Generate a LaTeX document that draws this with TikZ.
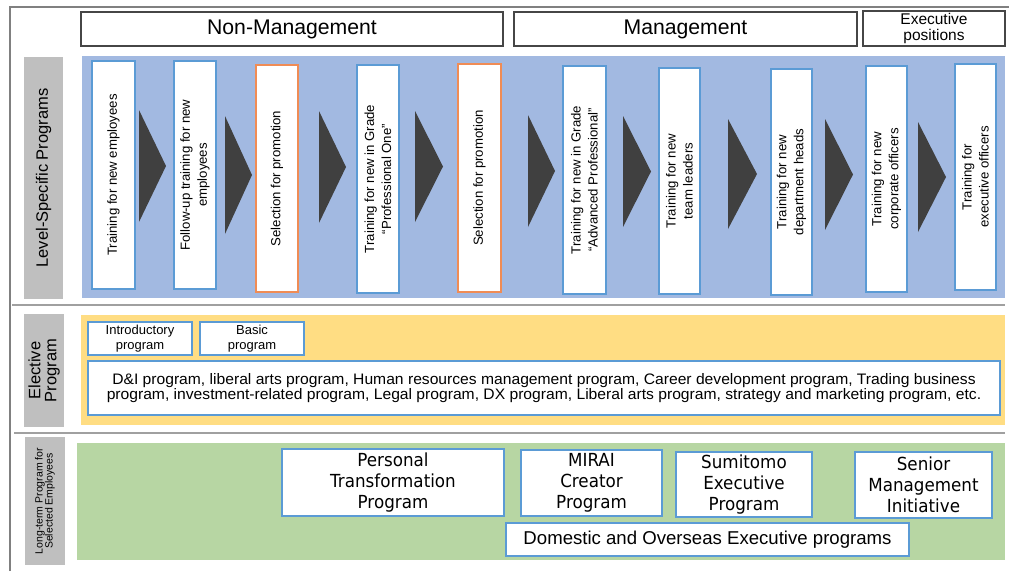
\documentclass[tikz,border=0pt]{standalone}
\usepackage{fontspec}
\setmainfont{Liberation Sans}
\newfontfamily\tahfont[FakeStretch=0.93]{DejaVu Sans}
\newfontfamily\widefont[FakeStretch=1.03]{Liberation Sans}
\definecolor{bandblue}{RGB}{162,185,225}
\definecolor{bandyellow}{RGB}{255,221,131}
\definecolor{bandgreen}{RGB}{183,214,163}
\definecolor{labelgray}{RGB}{191,191,191}
\definecolor{bluebd}{RGB}{91,155,213}
\definecolor{orangebd}{RGB}{240,140,85}
\definecolor{tridark}{RGB}{64,64,64}
\definecolor{hdrbd}{RGB}{70,70,70}
\definecolor{sepgray}{RGB}{160,160,160}
\begin{document}
\begin{tikzpicture}[x=1pt,y=-1pt,
  hdr/.style={draw=hdrbd, line width=1.8pt, fill=white, inner sep=0pt, align=center},
  lbl/.style={fill=labelgray, rotate=90, inner sep=0pt, align=center},
  band/.style={inner sep=0pt},
  lvbox/.style={draw=bluebd, line width=1.5pt, fill=white, rotate=90, inner sep=0pt, align=center, font=\fontsize{13.2}{17}\selectfont},
  selbox/.style={lvbox, draw=orangebd},
  elbox/.style={draw=bluebd, line width=1.5pt, fill=white, inner sep=0pt, align=center},
  grbox/.style={draw=bluebd, line width=1.5pt, fill=white, inner sep=0pt, align=center, font=\tahfont\fontsize{18}{21}\selectfont},
  tri/.style={fill=tridark},
  sepline/.style={draw=sepgray, line width=2pt},
  frameline/.style={draw=gray, line width=2pt}
]
\useasboundingbox (0,0) rectangle (1009,571);
% outer frame
\coordinate (fTL) at (10,7);
\coordinate (fBL) at (10,571);
\coordinate (fTR) at (1009,7);
\draw[frameline] (fBL) -- (fTL) -- (fTR);

% header boxes
\node[hdr, minimum width=422, minimum height=34, font=\fontsize{21.2}{24}\selectfont] (nonmgmt) at (292,29) {Non-Management};
\node[hdr, minimum width=343, minimum height=34, font=\fontsize{21.2}{24}\selectfont] (mgmt) at (685.5,29) {Management};
\node[hdr, minimum width=142, minimum height=35, font=\fontsize{15.5}{15.5}\selectfont] (exec) at (934,28.5) {Executive\\positions};

% bands
\node[band, fill=bandblue, minimum width=923, minimum height=242] (blueband) at (543.5,177) {};
\node[band, fill=bandyellow, minimum width=924, minimum height=110] (yellowband) at (543,370) {};
\node[band, fill=bandgreen, minimum width=928, minimum height=117] (greenband) at (541,501.5) {};

% separators
\coordinate (s1a) at (12,305); \coordinate (s1b) at (1005,305);
\coordinate (s2a) at (14,433); \coordinate (s2b) at (1005,433);
\draw[sepline] (s1a) -- (s1b);
\draw[sepline] (s2a) -- (s2b);

% side labels
\node[lbl, minimum width=242, minimum height=39, font=\fontsize{16.5}{18}\selectfont] (lvlabel) at (43.5,178) {Level-Specific Programs};
\node[lbl, minimum width=113, minimum height=40, font=\fontsize{16.5}{16}\selectfont] (ellabel) at (44,370.5) {Elective\\Program};
\node[lbl, minimum width=128, minimum height=40, font=\fontsize{10.5}{10}\selectfont] (ltlabel) at (45,501) {Long-term Program for\\Selected Employees};

% level-specific boxes
\node[lvbox, minimum width=228, minimum height=43] (b1) at (113.5,175) {Training for new employees};
\node[lvbox, minimum width=228, minimum height=42] (b2) at (195,175) {Follow-up training for new\\employees};
\node[selbox, minimum width=227, minimum height=42] (b3) at (277,178.5) {Selection for promotion};
\node[lvbox, minimum width=228, minimum height=42] (b4) at (378,179) {Training for new in Grade\\``Professional One''};
\node[selbox, minimum width=228, minimum height=43] (b5) at (479.5,178) {Selection for promotion};
\node[lvbox, minimum width=228, minimum height=43] (b6) at (584.5,180) {Training for new in Grade\\``Advanced Professional''};
\node[lvbox, minimum width=226, minimum height=41] (b7) at (679.5,181) {Training for new\\team leaders};
\node[lvbox, minimum width=226, minimum height=41] (b8) at (791.5,182) {Training for new\\department heads};
\node[lvbox, minimum width=226, minimum height=41] (b9) at (886.5,179) {Training for new\\corporate officers};
\node[lvbox, minimum width=226, minimum height=41] (b10) at (975.5,177) {Training for\\executive officers};

% chevrons
\fill[tri] (139,110) -- (166,166) -- (139,222) -- cycle;
\fill[tri] (225,116) -- (252,175) -- (225,234) -- cycle;
\fill[tri] (319,111) -- (346,167) -- (319,223) -- cycle;
\fill[tri] (415,111) -- (443,166.5) -- (415,222) -- cycle;
\fill[tri] (528,115) -- (555,171) -- (528,227) -- cycle;
\fill[tri] (623,116) -- (651,171.5) -- (623,227) -- cycle;
\fill[tri] (728,119) -- (757,174) -- (728,229) -- cycle;
\fill[tri] (825,119) -- (853,174.5) -- (825,230) -- cycle;
\fill[tri] (918,122) -- (946,177) -- (918,232) -- cycle;

% elective boxes
\node[elbox, minimum width=104, minimum height=33, font=\fontsize{13}{15}\selectfont] (intro) at (140,338.5) {Introductory\\program};
\node[elbox, minimum width=104, minimum height=33, font=\fontsize{13}{15}\selectfont] (basic) at (252,338.5) {Basic\\program};
\node[elbox, minimum width=912, minimum height=54, font=\widefont\fontsize{15.2}{11}\selectfont] (elective) at (544,388) {D\&I program, liberal arts program, Human resources management program, Career development program, Trading business\\program, investment-related program, Legal program, DX program, Liberal arts program, strategy and marketing program, etc.};

% long-term boxes
\node[grbox, minimum width=222, minimum height=67] (personal) at (393,482.5) {Personal\\Transformation\\Program};
\node[grbox, minimum width=141, minimum height=66] (mirai) at (591.5,483) {MIRAI\\Creator\\Program};
\node[grbox, minimum width=136, minimum height=65] (sumitomo) at (744,484.5) {Sumitomo\\Executive\\Program};
\node[grbox, minimum width=137, minimum height=66] (senior) at (923.5,485) {Senior\\Management\\Initiative};
\node[elbox, minimum width=403, minimum height=33, font=\fontsize{18.6}{20}\selectfont] (domestic) at (707.5,539.5) {Domestic and Overseas Executive programs};
\end{tikzpicture}
\end{document}
